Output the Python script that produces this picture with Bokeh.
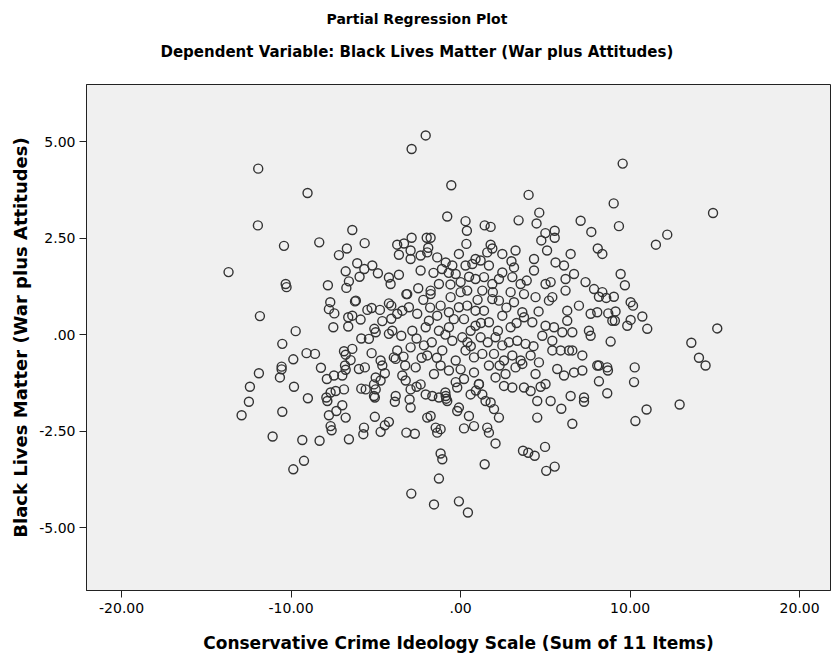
from bokeh.plotting import figure
from bokeh.models import FixedTicker, Title, Range1d
from bokeh.embed import file_html
from bokeh.resources import INLINE

# ---- data (partial residuals) ----
top_x = [-11.94, -9.03, -11.96, -6.39, -10.42, -8.34, -5.66, -6.71, -3.74, -3.34,
         -2.06, -2.89, -0.55, 4.01, -0.79, 0.29, 0.37, 1.42, 1.77, 3.42, 4.64, 4.48, 5.00, 5.55, 5.55,
         4.76, 7.08, 7.71, -2.89, -2.00, -1.77, -1.91, 0.34, -2.95, 1.77, 1.87, 5.10,
         9.56, 9.03, 14.89, 9.34, 12.19, 11.52, 8.09]
top_y = [4.30, 3.67, 2.83, 2.71, 2.30, 2.39, 2.37, 2.23, 2.33, 2.36,
         5.16, 4.81, 3.87, 3.62, 3.06, 2.94, 2.69, 2.83, 2.79, 2.96, 3.16, 2.88, 2.63, 2.69, 2.51,
         2.44, 2.95, 2.66, 2.51, 2.51, 2.51, 2.25, 2.35, 2.18, 2.33, 2.23, 2.18,
         4.43, 3.40, 3.15, 2.81, 2.59, 2.33, 2.23]

left_pts = [(-13.69, 1.62), (-10.32, 1.31), (-10.27, 1.23), (-11.84, 0.48), (-9.73, 0.09), (-10.52, -0.24),
            (-9.87, -0.64), (-9.09, -0.48), (-8.59, -0.50), (-11.90, -1.00), (-10.56, -0.83), (-10.56, -0.90),
            (-10.66, -1.11), (-8.24, -0.86), (-7.83, 1.28), (-7.18, 2.06), (-6.10, 1.85), (-6.78, 1.64),
            (-6.59, 1.38), (-6.74, 1.21), (-5.96, 1.50), (-5.68, 1.70), (-5.21, 1.79), (-4.88, 1.59),
            (-4.23, 1.48), (-3.64, 1.55), (-4.13, 1.31), (-3.64, 2.07), (-3.20, 1.05), (-7.69, 0.84),
            (-7.77, 0.66), (-7.45, 0.55), (-6.23, 0.86), (-6.18, 0.88), (-7.51, 0.19), (-6.63, 0.21),
            (-6.63, 0.45), (-6.39, 0.49), (-5.90, 0.39), (-5.50, 0.64), (-5.25, 0.69), (-4.76, 0.64),
            (-4.62, 0.35), (-4.23, 0.81), (-4.09, 0.75), (-4.09, 0.41), (-3.74, 0.54), (-3.44, 0.62),
            (-5.09, 0.15), (-5.01, 0.06), (-5.86, -0.10), (-5.41, -0.11), (-4.23, 0.02), (-4.03, 0.10),
            (-3.50, -0.03), (-6.39, -0.37), (-6.88, -0.43), (-6.78, -0.52), (-5.25, -0.48), (-6.49, -0.66),
            (-6.82, -0.80), (-6.78, -0.91), (-6.00, -0.89), (-5.65, -0.85), (-4.72, -0.67), (-4.62, -0.80),
            (-3.94, -0.59), (-3.74, -0.41), (-3.83, -0.63), (-3.37, -0.57), (-3.27, -0.80), (-4.47, -1.00),
            (-5.01, -1.11), (-4.72, -1.19), (-7.89, -1.15), (-7.47, -1.06), (-6.98, -1.06), (-3.44, -1.06),
            (-3.24, -1.19)]

center_pts = [(-2.95, 1.96), (-2.36, 2.05), (-1.97, 2.13), (-1.38, 2.00), (-0.88, 1.87), (-0.10, 2.09),
              (0.88, 1.96), (1.57, 2.13), (2.46, 2.09), (3.24, 2.18), (4.33, 1.96), (6.49, 2.09),
              (-2.36, 1.66), (-0.49, 1.79), (0.29, 1.79), (0.69, 1.83), (1.18, 1.92), (1.67, 1.79),
              (2.46, 1.61), (3.15, 1.74), (4.33, 1.66), (5.60, 1.87), (6.10, 1.79), (6.69, 1.57), (7.37, 1.36),
              (-1.77, 1.14), (-1.28, 1.31), (-0.29, 1.57), (0.00, 1.36), (0.88, 1.44), (1.38, 1.49),
              (1.87, 1.31), (2.26, 1.44), (3.05, 1.49), (3.54, 1.31), (5.01, 1.31), (5.31, 1.36),
              (6.19, 1.44), (6.19, 1.14), (7.87, 1.18), (8.36, 1.10),
              (-3.15, 1.05), (-1.77, 1.05), (-1.18, 0.75), (-0.59, 0.97), (0.00, 1.10), (0.39, 1.14),
              (1.28, 1.14), (1.87, 0.92), (2.26, 0.88), (2.95, 1.10), (3.15, 0.84), (3.74, 1.05),
              (4.42, 0.97), (5.21, 0.88), (5.41, 0.97), (6.29, 0.62), (6.98, 0.75), (7.67, 0.54), (8.06, 0.58),
              (-3.05, 0.71), (-2.56, 0.54), (-1.87, 0.36), (-1.38, 0.49), (-0.69, 0.58), (-0.10, 0.71),
              (0.39, 0.75), (0.88, 0.62), (1.38, 0.62), (1.67, 0.32), (2.46, 0.49), (2.95, 0.19),
              (3.64, 0.58), (3.74, 0.45), (4.23, 0.32), (5.01, 0.23), (5.51, 0.19), (6.29, 0.36),
              (6.59, 0.06), (7.57, 0.10), (7.67, -0.03),
              (-2.85, 0.10), (-2.06, 0.19), (-1.28, 0.10), (-0.69, 0.19), (-0.49, -0.16), (0.10, -0.07),
              (0.59, 0.10), (0.88, 0.23), (1.18, -0.07), (2.06, -0.07), (2.46, -0.28), (2.85, -0.20),
              (3.34, -0.16), (3.83, -0.24), (4.82, -0.03), (5.41, -0.16), (6.00, 0.06), (6.59, -0.41),
              (7.18, -0.54), (8.06, -0.80),
              (-2.95, -0.33), (-2.16, -0.28), (-1.97, -0.54), (-1.08, -0.41), (-0.29, -0.67), (0.29, -0.41),
              (0.79, -0.59), (1.28, -0.50), (1.97, -0.50), (2.56, -0.67), (3.05, -0.54), (3.54, -0.67),
              (4.13, -0.54), (4.62, -0.72), (5.41, -0.41), (5.90, -0.41), (6.39, -0.41),
              (-2.65, -0.85), (-1.57, -1.02), (-1.18, -0.80), (-0.69, -0.93), (-0.29, -1.23), (0.20, -1.15),
              (0.79, -0.98), (1.08, -1.28), (1.67, -0.80), (2.06, -1.11), (2.65, -1.02), (3.24, -0.85),
              (3.64, -0.76), (4.42, -1.02), (5.01, -1.28), (5.70, -0.89), (6.10, -1.06), (6.69, -0.98),
              (7.18, -0.93),
              (-2.50, 1.20), (-2.20, 0.90), (-1.60, 1.60), (-1.10, 1.70), (-0.60, 1.30), (0.20, 0.40),
              (0.60, -0.30), (1.00, 0.90), (1.60, -0.20), (2.20, 0.10), (2.70, 0.70), (3.30, 0.30),
              (-2.60, -0.10), (-1.70, -0.20), (-0.90, 0.00), (0.00, -0.90), (0.50, 1.50), (1.90, 1.10),
              (3.90, 1.40), (4.60, 0.60), (-1.40, -0.60), (-0.40, 0.40), (2.30, -0.80), (4.30, -0.30),
              (-2.30, -0.60), (3.00, 1.90), (-0.70, 1.60), (1.20, 0.30), (-1.80, 0.70), (0.40, -0.20)]

right_pts = [(8.36, 2.09), (9.44, 1.57), (9.69, 1.28), (8.16, 0.98), (8.59, 0.95), (9.04, 0.98),
             (10.03, 0.84), (10.17, 0.75), (8.71, 0.55), (9.14, 0.60), (8.95, 0.36), (9.10, 0.36),
             (10.03, 0.38), (9.83, 0.23), (10.72, 0.47), (11.01, 0.15), (8.85, -0.18), (13.61, -0.21),
             (15.14, 0.16), (14.06, -0.60), (14.45, -0.80), (8.16, -0.80), (8.65, -0.85), (8.69, -0.93),
             (10.27, -0.85), (8.16, -1.21), (10.23, -1.23),
             (8.65, -1.52), (10.97, -1.94), (10.31, -2.24), (12.92, -1.81)]

low_left_pts = [(-12.43, -1.35), (-9.83, -1.35), (-12.49, -1.74), (-12.92, -2.09), (-10.52, -2.00),
                (-9.01, -1.65), (-11.09, -2.64), (-9.34, -2.73), (-8.32, -2.75), (-9.24, -3.27),
                (-9.87, -3.49), (-7.86, -1.72), (-7.92, -1.63), (-7.67, -1.50), (-7.37, -1.46),
                (-6.88, -1.42), (-7.77, -2.09), (-7.33, -1.98), (-6.98, -1.83), (-6.78, -2.15),
                (-7.67, -2.37), (-7.61, -2.48), (-6.59, -2.71), (-5.86, -1.40), (-5.60, -1.42),
                (-5.11, -1.29), (-5.01, -1.42), (-5.11, -1.59), (-5.06, -1.63), (-5.70, -2.41),
                (-5.74, -2.58), (-5.06, -2.13), (-4.47, -2.35), (-4.23, -2.26), (-4.72, -2.52),
                (-3.83, -1.59), (-3.88, -1.74), (-3.20, -2.54)]

low_center_pts = [(-2.95, -1.42), (-3.01, -1.68), (-2.95, -1.89), (-2.36, -1.29), (-2.06, -1.55),
                  (-1.67, -1.59), (-1.28, -1.63), (-0.88, -1.59), (-0.79, -1.72), (-0.20, -1.37),
                  (-0.10, -1.89), (-0.20, -1.98), (0.59, -1.55), (0.49, -2.11), (1.08, -1.29),
                  (1.28, -1.55), (1.47, -1.72), (1.77, -1.76), (1.97, -1.93), (2.26, -2.15),
                  (2.56, -1.33), (3.05, -1.37), (3.74, -1.37), (4.13, -1.46), (4.72, -1.35),
                  (4.52, -1.72), (5.31, -1.72), (5.94, -1.92), (6.49, -1.59), (7.28, -1.63), (7.28, -1.74),
                  (-1.97, -2.15), (-1.77, -2.11), (-2.70, -2.57), (-1.47, -2.41), (-1.38, -2.54),
                  (-1.18, -2.45), (0.20, -2.43), (0.79, -2.37), (1.57, -2.41), (1.67, -2.54),
                  (4.52, -2.15), (6.59, -2.31), (2.06, -2.82), (3.68, -3.01), (3.99, -3.06),
                  (4.37, -3.14), (4.98, -2.91), (-1.18, -3.08), (-1.08, -3.23), (1.42, -3.36),
                  (5.05, -3.53), (5.55, -3.42), (-1.28, -3.73), (-2.91, -4.12), (-1.57, -4.40),
                  (-0.10, -4.32), (0.43, -4.61),
                  (-0.90, -1.50), (-0.85, -1.66), (-2.60, -1.35), (0.90, -1.45)]

x_ticks = [-20, -10, 0, 10, 20]
x_tick_labels = ["-20.00", "-10.00", ".00", "10.00", "20.00"]
y_ticks = [-5, -2.5, 0, 2.5, 5]
y_tick_labels = ["-5.00", "-2.50", ".00", "2.50", "5.00"]

title_text = "Partial Regression Plot"
subtitle_text = "Dependent Variable: Black Lives Matter (War plus Attitudes)"
x_title = "Conservative Crime Ideology Scale (Sum of 11 Items)"
y_title = "Black Lives Matter (War plus Attitudes)"

xs = list(top_x)
ys = list(top_y)
for group in (left_pts, center_pts, right_pts, low_left_pts, low_center_pts):
    xs += [a for a, b in group]
    ys += [b for a, b in group]

FONT = "DejaVu Sans"

p = figure(frame_width=744, frame_height=506,
           x_range=Range1d(-22.07, 21.82), y_range=Range1d(-6.63, 6.48),
           output_backend="svg", toolbar_location=None,
           min_border_left=86, min_border_right=3, min_border_top=84, min_border_bottom=72,
           background_fill_color="#F0F0F0", border_fill_color="white",
           outline_line_color="#222222", outline_line_width=1)

# main title (outermost) and subtitle (next to the frame)
p.title.text = title_text
p.title.text_font = FONT
p.title.text_font_size = "14px"
p.title.text_font_style = "bold"
p.title.text_color = "black"
p.title.align = "left"
p.title.offset = 240
p.title.standoff = -21

p.add_layout(Title(text=subtitle_text, text_font=FONT, text_font_size="15px",
                   text_color="black", text_font_style="bold",
                   align="left", offset=74, standoff=48), "above")

p.grid.visible = False

p.scatter(xs, ys, marker="circle", size=9, fill_color=None,
          line_color="#333333", line_width=1.4)

p.xaxis.ticker = FixedTicker(ticks=x_ticks)
p.xaxis.major_label_overrides = {t: l for t, l in zip(x_ticks, x_tick_labels)}
p.yaxis.ticker = FixedTicker(ticks=y_ticks)
p.yaxis.major_label_overrides = {t: l for t, l in zip(y_ticks, y_tick_labels)}

p.xaxis.axis_label = x_title
p.yaxis.axis_label = y_title
for ax in (p.xaxis[0], p.yaxis[0]):
    ax.axis_label_text_font = FONT
    ax.axis_label_text_font_style = "bold"
    ax.axis_label_text_color = "black"
    ax.major_label_text_font = FONT
    ax.major_label_text_font_size = "14px"
    ax.major_label_text_color = "black"
    ax.minor_tick_line_color = None
    ax.major_tick_in = 0
    ax.major_tick_out = 7
    ax.major_tick_line_color = "#222222"
    ax.axis_line_color = "#222222"
p.xaxis.axis_label_text_font_size = "17px"
p.yaxis.axis_label_text_font_size = "18px"
p.xaxis.major_label_standoff = 5
p.xaxis.axis_label_standoff = 17
p.yaxis.major_label_standoff = 4
p.yaxis.axis_label_standoff = 5

open("out.html", "w").write(file_html(p, INLINE))
